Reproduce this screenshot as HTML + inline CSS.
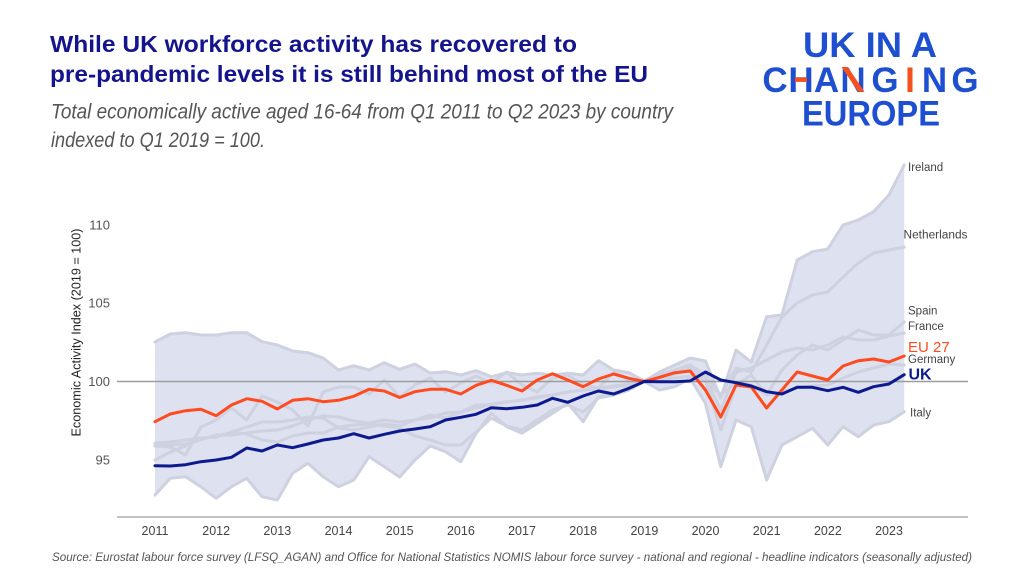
<!DOCTYPE html>
<html>
<head>
<meta charset="utf-8">
<style>
  html, body { margin: 0; padding: 0; background: #ffffff; }
  svg { display: block; }
  text { font-family: "Liberation Sans", "DejaVu Sans", sans-serif; }
</style>
</head>
<body>
<svg width="1024" height="576" viewBox="0 0 1024 576" xmlns="http://www.w3.org/2000/svg">
  <rect x="0" y="0" width="1024" height="576" fill="#ffffff"/>

  <!-- Title -->
  <text x="50" y="52" font-size="23.5" font-weight="bold" fill="#14148c" textLength="527" lengthAdjust="spacingAndGlyphs">While UK workforce activity has recovered to</text>
  <text x="50" y="82" font-size="23.5" font-weight="bold" fill="#14148c" textLength="598" lengthAdjust="spacingAndGlyphs">pre-pandemic levels it is still behind most of the EU</text>

  <!-- Subtitle -->
  <text x="51" y="118.5" font-size="21" font-style="italic" fill="#555555" textLength="622" lengthAdjust="spacingAndGlyphs">Total economically active aged 16-64 from Q1 2011 to Q2 2023 by country</text>
  <text x="51" y="147" font-size="21" font-style="italic" fill="#555555" textLength="214" lengthAdjust="spacingAndGlyphs">indexed to Q1 2019 = 100.</text>

  <!-- Logo -->
  <g font-weight="bold" font-size="35" fill="#1f4fd1">
    <text x="803" y="57" textLength="134" lengthAdjust="spacingAndGlyphs">UK IN A</text>
    <g text-anchor="middle">
      <text x="775" y="92">C</text>
      <text x="801" y="92">H</text>
      <text x="826.5" y="92">A</text>
      <text x="853" y="92">N</text>
      <text x="885" y="92">G</text>
      <text x="910" y="92" fill="#f4511e">I</text>
      <text x="934.5" y="92">N</text>
      <text x="965" y="92">G</text>
    </g>
    <text x="802" y="125.5" textLength="138" lengthAdjust="spacingAndGlyphs">EUROPE</text>
  </g>
  <rect x="795" y="77.5" width="12" height="4.4" fill="#f4511e"/>
  <polygon points="841.5,67 847.8,67 864.5,91.8 858.2,91.8" fill="#f4511e"/>

  <!-- Chart: band, grey lines, main lines -->
  <g transform="translate(155,0) scale(15.29,1)">
    <polygon fill="#dee1ef" stroke="none" points="0,342 1,334 2,332.7 3,335 4,335 5,332.7 6,332.7 7,341.7 8,345 9,351 10,352.7 11,358 12,370 13,365.7 14,370 15,362.7 16,369.3 17,364 18,373 19,371.7 20,375 21,370.7 22,376.7 23,372.7 24,375 25,373.3 26,375 27,373.3 28,375 29,360.7 30,370 31,372.7 32,381 33,372 34,365 35,358 36,361 37,398 38,350 39,362 40,316.7 41,315 42,260 43,251.7 44,249 45,225 46,220 47,211.7 48,195 49,165 49,411.7 48,421.7 47,425 46,436.7 45,426.7 44,445 43,428.3 42,436.7 41,445 40,480 39,426.7 38,420 37,466.7 36,403.3 35,378.3 34,386.7 33,390 32,381.5 31,388.3 30,393.3 29,396.7 28,421.7 27,403.3 26,413.3 25,423.3 24,433.3 23,426.7 22,413.3 21,433.3 20,461.7 19,451.7 18,446 17,460 16,477 15,466.7 14,456.7 13,480 12,486.7 11,476.7 10,463.3 9,473.3 8,500 7,496.7 6,478.3 5,486.7 4,498.3 3,486.7 2,476.7 1,478.3 0,495"/>

    <g fill="none" stroke="#cdd1e0" stroke-width="3" stroke-linejoin="round" stroke-linecap="round">
      <polyline vector-effect="non-scaling-stroke" points="0,342 1,334 2,332.7 3,335 4,335 5,332.7 6,332.7 7,341.7 8,345 9,351 10,352.7 11,358 12,370 13,365.7 14,370 15,362.7 16,369.3 17,364 18,373 19,371.7 20,375 21,370.7 22,376.7 23,372.7 24,375 25,373.3 26,375 27,373.3 28,375 29,360.7 30,370 31,372.7 32,381 33,372 34,365 35,358 36,361 37,398 38,350 39,362 40,316.7 41,315 42,260 43,251.7 44,249 45,225 46,220 47,211.7 48,195 49,165"/>
      <polyline vector-effect="non-scaling-stroke" points="0,495 1,478.3 2,476.7 3,486.7 4,498.3 5,486.7 6,478.3 7,496.7 8,500 9,473.3 10,463.3 11,476.7 12,486.7 13,480 14,456.7 15,466.7 16,477 17,460 18,446 19,451.7 20,461.7 21,433.3 22,413.3 23,426.7 24,433.3 25,423.3 26,413.3 27,403.3 28,421.7 29,396.7 30,393.3 31,388.3 32,381.5 33,390 34,386.7 35,378.3 36,403.3 37,466.7 38,420 39,426.7 40,480 41,445 42,436.7 43,428.3 44,445 45,426.7 46,436.7 47,425 48,421.7 49,411.7"/>
      <polyline vector-effect="non-scaling-stroke" points="0,460 1,452 2,446 3,438 4,437 5,432 6,434 7,440 8,442 9,436 10,433 11,433 12,427 13,425 14,424 15,426 16,428 17,436 18,440 19,445 20,445 21,432 22,418 23,426 24,430 25,420 26,410 27,405 28,412 29,398 30,395 31,390 32,381.5 33,375 34,370 35,365 36,375 37,395 38,368 39,372 40,345 41,317 42,303 43,295 44,292 45,277 46,263 47,253 48,250 49,247"/>
      <polyline vector-effect="non-scaling-stroke" points="0,446 1,447 2,455 3,427 4,420 5,408 6,420 7,396 8,402 9,410 10,426 11,392 12,387 13,387 14,394 15,380 16,397 17,385 18,378 19,392 20,383 21,376 22,383 23,372 24,385 25,392 26,378 27,375 28,385 29,388 30,372 31,380 32,381.5 33,377 34,372 35,368 36,380 37,430 38,385 39,375 40,395 41,370 42,355 43,345 44,350 45,340 46,330 47,335 48,335 49,322"/>
      <polyline vector-effect="non-scaling-stroke" points="0,443 1,442 2,440 3,438 4,437 5,432 6,427 7,422 8,422 9,420 10,417 11,418 12,428 13,430 14,427 15,424 16,426 17,420 18,415 19,418 20,412 21,405 22,405 23,402 24,400 25,398 26,395 27,392 28,390 29,388 30,386 31,384 32,381.5 33,378 34,374 35,370 36,378 37,410 38,372 39,368 40,360 41,352 42,348 43,350 44,345 45,337 46,340 47,340 48,336 49,333"/>
      <polyline vector-effect="non-scaling-stroke" points="0,446 1,445 2,444 3,440 4,435 5,435 6,433 7,431 8,430 9,426 10,420 11,416 12,417 13,421 14,423 15,420 16,422 17,420 18,418 19,413 20,412 21,408 22,404 23,402 24,400 25,397 26,395 27,392 28,390 29,389 30,387 31,385 32,381.5 33,379 34,378 35,376 36,380 37,395 38,383 39,385 40,395 41,392 42,388 43,386 44,385 45,378 46,372 47,368 48,364 49,365"/>
    </g>
  </g>

  <!-- Reference line at 100 -->
  <line x1="117" y1="381.5" x2="968" y2="381.5" stroke="#9c9c9c" stroke-width="1.6"/>

  <g transform="translate(155,0) scale(15.29,1)" fill="none" stroke-width="3" stroke-linejoin="round" stroke-linecap="round">
    <polyline vector-effect="non-scaling-stroke" stroke="#ff4b1f" points="0,421.7 1,414 2,410.7 3,409.3 4,415.7 5,405 6,398.7 7,401.3 8,409 9,400.3 10,398.7 11,401.7 12,400.3 13,396.3 14,389.3 15,391 16,397.5 17,391.7 18,389.3 19,389.3 20,394 21,385.3 22,380.3 23,385.3 24,391 25,380 26,373.7 27,380 28,386.7 29,379 30,374 31,378.3 32,381.5 33,377.3 34,372.7 35,371 36,390 37,417 38,385 39,387 40,408 41,390 42,372 43,376 44,380 45,366 46,360.7 47,359 48,362 49,356"/>
    <polyline vector-effect="non-scaling-stroke" stroke="#0c1a8e" points="0,465.7 1,466 2,464.7 3,461.7 4,460 5,457.3 6,448 7,451 8,445 9,447.7 10,444 11,440 12,438 13,433.7 14,438 15,434.3 16,431 17,429 18,426.7 19,420 20,417.3 21,414.3 22,407.7 23,408.7 24,407.3 25,405 26,398.3 27,402.3 28,396 29,391 30,394 31,388.3 32,381.5 33,381.7 34,381.7 35,381 36,372 37,380 38,382.7 39,386 40,391.7 41,394 42,387.3 43,387.3 44,390.7 45,387.3 46,392.3 47,386.7 48,384 49,374.7"/>
  </g>

  <!-- X axis -->
  <line x1="117" y1="517" x2="968" y2="517" stroke="#b0b0b0" stroke-width="1.5"/>
  <g font-size="12.5" fill="#444444" text-anchor="middle">
    <text x="155" y="535">2011</text>
    <text x="216.2" y="535">2012</text>
    <text x="277.3" y="535">2013</text>
    <text x="338.5" y="535">2014</text>
    <text x="399.7" y="535">2015</text>
    <text x="460.9" y="535">2016</text>
    <text x="522" y="535">2017</text>
    <text x="583.2" y="535">2018</text>
    <text x="644.4" y="535">2019</text>
    <text x="705.5" y="535">2020</text>
    <text x="766.7" y="535">2021</text>
    <text x="827.9" y="535">2022</text>
    <text x="889" y="535">2023</text>
  </g>

  <!-- Y axis labels -->
  <g font-size="13" fill="#555555" text-anchor="end">
    <text x="110" y="229.5">110</text>
    <text x="110" y="307.5">105</text>
    <text x="110" y="386">100</text>
    <text x="110" y="464.5">95</text>
  </g>
  <text transform="translate(80.5,332.5) rotate(-90)" font-size="12.5" fill="#222222" text-anchor="middle" textLength="208" lengthAdjust="spacingAndGlyphs">Economic Activity Index (2019 = 100)</text>

  <!-- Series labels -->
  <g font-size="11.5" fill="#444444">
    <text x="908" y="171">Ireland</text>
    <text x="903.5" y="238.5" textLength="64" lengthAdjust="spacingAndGlyphs">Netherlands</text>
    <text x="908" y="314.5">Spain</text>
    <text x="908" y="330">France</text>
    <text x="908" y="363">Germany</text>
    <text x="910" y="416.5">Italy</text>
  </g>
  <text x="908" y="352" font-size="15" fill="#ff4b1f">EU 27</text>
  <text x="908.5" y="379.5" font-size="16" fill="#0c1a8e" font-weight="bold">UK</text>

  <!-- Source -->
  <text x="52" y="561" font-size="12" font-style="italic" fill="#555555" textLength="920" lengthAdjust="spacingAndGlyphs">Source: Eurostat labour force survey (LFSQ_AGAN) and Office for National Statistics NOMIS labour force survey - national and regional - headline indicators (seasonally adjusted)</text>
</svg>
</body>
</html>
